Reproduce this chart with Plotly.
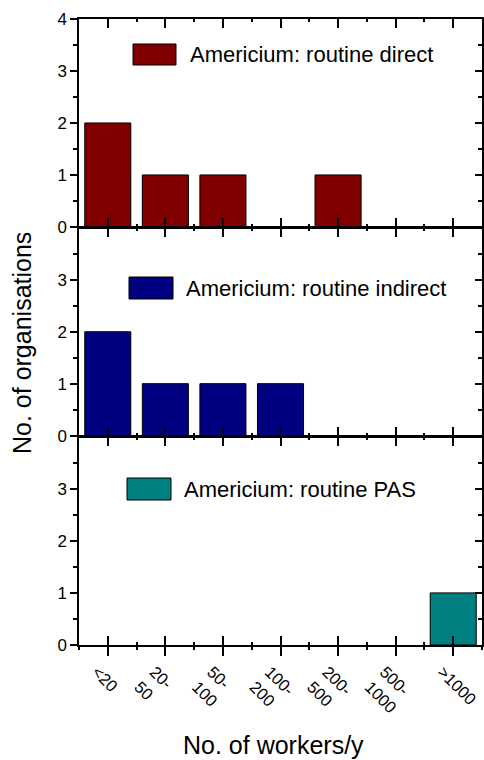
import plotly.graph_objects as go

categories = ["<20", "20-50", "50-100", "100-200", "200-500", "500-1000", ">1000"]
tick_labels = ["<20", "20-<br>50", "50-<br>100", "100-<br>200", "200-<br>500", "500-<br>1000", ">1000"]
direct = [2, 1, 1, 0, 1, 0, 0]
indirect = [2, 1, 1, 1, 0, 0, 0]
pas = [0, 0, 0, 0, 0, 0, 1]
series_names = ["Americium: routine direct", "Americium: routine indirect", "Americium: routine PAS"]
colors = ["#800000", "#000080", "#008080"]

FONT = "Arial, 'Liberation Sans', sans-serif"
xpos = list(range(len(categories)))


def esc(t):
    parts = t.split("<br>")
    parts = [p.replace("<", "&lt;").replace(">", "&gt;") for p in parts]
    return "<br>".join(parts)


ticktext = [esc(t) for t in tick_labels]

fig = go.Figure()
for i, vals in enumerate([direct, indirect, pas]):
    k = "" if i == 0 else str(i + 1)
    fig.add_trace(go.Bar(x=xpos, y=[v if v else None for v in vals], width=0.8, xaxis="x" + k, yaxis="y" + k,
                         marker=dict(color=colors[i], line=dict(color="black", width=1)),
                         showlegend=False, hoverinfo="skip"))
# dummy traces for overlay axes
fig.add_trace(go.Scatter(x=[None], y=[None], xaxis="x4", yaxis="y3", showlegend=False))
for i in range(3):
    k = "" if i == 0 else str(i + 1)
    fig.add_trace(go.Scatter(x=[None], y=[None], xaxis="x" + k, yaxis="y" + str(i + 4), showlegend=False))

L, R, T, B = 79, 2, 19, 115
W, H = 484, 760
pw, ph = W - L - R, H - T - B
LW = 1.5
g = LW / ph

axis_common = dict(showline=True, linecolor="black", linewidth=LW, showgrid=False, zeroline=False,
                   automargin=False,
                   tickcolor="black", tickwidth=1.5, tickfont=dict(family=FONT, size=17, color="black"))

domains = [[2/3 + g/2, 1], [1/3 + g/2, 2/3 - g/2], [0, 1/3 - g/2]]
layout = dict(width=W, height=H, margin=dict(l=L, r=R, t=T, b=B, autoexpand=False),
              plot_bgcolor="white", paper_bgcolor="white", bargap=0.2, showlegend=False)
for i in range(3):
    k = "" if i == 0 else str(i + 1)
    layout["xaxis" + k] = dict(axis_common, anchor="y" + k, domain=[0, 1], range=[-0.5, 6.5],
                               tickmode="array", tickvals=xpos, ticks="inside", ticklen=9, mirror="ticks",
                               showticklabels=False,
                               minor=dict(tick0=0.5, dtick=1, ticks="inside", ticklen=3, tickcolor="black", tickwidth=1.5))
    yr = [0, 4] if i == 0 else [0, 3.99]
    layout["yaxis" + k] = dict(axis_common, anchor="x" + k, domain=domains[i], range=yr, tickmode="linear",
                               tick0=0, dtick=1, ticks="outside", ticklen=7, mirror=True,
                               minor=dict(tick0=0, dtick=0.5, ticks="outside", ticklen=4, tickcolor="black", tickwidth=1.5))
    layout["yaxis" + str(i + 4)] = dict(axis_common, anchor="x" + k, overlaying="y" + k, side="right",
                                        range=yr, tickmode="linear", tick0=0, dtick=1, ticks="inside", ticklen=7,
                                        showticklabels=False,
                                        minor=dict(tick0=0, dtick=0.5, ticks="inside", ticklen=4, tickcolor="black", tickwidth=1.5))
layout["xaxis4"] = dict(axis_common, anchor="y3", overlaying="x3", side="bottom", range=[-0.5, 6.5],
                        tickmode="array", tickvals=xpos, ticktext=ticktext, ticks="outside", ticklen=9,
                        tickangle=45, ticklabeloverflow="allow", ticklabelshift=-11,
                        tickfont=dict(family=FONT, size=16.5, color="black"),
                        minor=dict(tick0=0.5, dtick=1, ticks="outside", ticklen=3, tickcolor="black", tickwidth=1.5))

fig.update_layout(**layout)


def px_x(p):
    return (p - L) / pw


def px_y(p):
    return (H - B - p) / ph


legend_boxes = [(133, 176, 44, 65, 188), (129, 173, 277, 299, 184), (127, 171, 478, 500, 182)]
for i, (x0, x1, y0, y1, tx) in enumerate(legend_boxes):
    fig.add_shape(type="rect", xref="paper", yref="paper", x0=px_x(x0), x1=px_x(x1), y0=px_y(y1), y1=px_y(y0),
                  fillcolor=colors[i], line=dict(color="black", width=1))
    fig.add_annotation(xref="paper", yref="paper", x=px_x(tx), y=px_y((y0 + y1) / 2), xanchor="left", yanchor="middle",
                       text=series_names[i], showarrow=False, font=dict(family=FONT, size=22, color="black"))

fig.add_annotation(xref="paper", yref="paper", x=px_x(273), y=px_y(745), xanchor="center", yanchor="middle",
                   text="No. of workers/y", showarrow=False, font=dict(family=FONT, size=25, color="black"))
fig.add_annotation(xref="paper", yref="paper", x=px_x(22), y=px_y(343), xanchor="center", yanchor="middle",
                   text="No. of organisations", textangle=-90, showarrow=False, font=dict(family=FONT, size=25, color="black"))

fig.write_html("out.html")
